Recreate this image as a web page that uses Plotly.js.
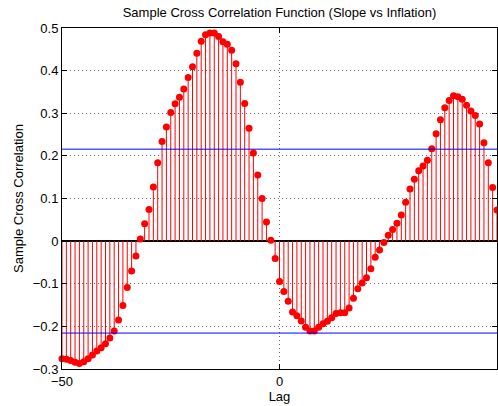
<!DOCTYPE html>
<html>
<head>
<meta charset="utf-8">
<script src="https://cdn.plot.ly/plotly-3.0.1.min.js"></script>
<style>html,body{margin:0;padding:0;background:#fff;}#chart{width:498px;height:406px;}</style>
</head>
<body>
<div id="chart"></div>
<script>
const lags = [];
for (let l = -50; l <= 50; l++) lags.push(l);
const xcf = [
 -0.276,-0.277,-0.280,-0.284,-0.287,-0.283,-0.276,-0.267,-0.258,-0.250,
 -0.241,-0.227,-0.211,-0.185,-0.151,-0.109,-0.070,-0.035,0.005,0.041,
 0.074,0.127,0.184,0.234,0.268,0.302,0.322,0.3375,0.357,0.384,
 0.409,0.441,0.469,0.484,0.488,0.488,0.480,0.468,0.462,0.448,
 0.416,0.373,0.323,0.265,0.207,0.155,0.100,0.045,0.002,-0.041,
 -0.095,-0.118,-0.141,-0.166,-0.175,-0.1875,-0.202,-0.211,-0.211,-0.202,
 -0.194,-0.188,-0.180,-0.170,-0.168,-0.168,-0.157,-0.134,-0.112,-0.098,
 -0.086,-0.065,-0.038,-0.021,-0.003,0.014,0.027,0.042,0.061,0.091,
 0.122,0.145,0.165,0.176,0.190,0.217,0.252,0.285,0.313,0.330,
 0.341,0.339,0.333,0.319,0.305,0.295,0.275,0.231,0.184,0.126,
 0.073
];
const bound = 0.2157;
const yTicks = [-0.3,-0.2,-0.1,0,0.1,0.2,0.3,0.4,0.5];
const xTicks = [-50,0,50];

const sx = [], sy = [];
lags.forEach((l,i)=>{ sx.push(l,l,null); sy.push(0,xcf[i],null); });

const fam = 'Liberation Sans, Arial, Helvetica, sans-serif';
const font = {family:fam, size:13, color:'#000'};
const traces = [
  {x:sx, y:sy, mode:'lines', line:{color:'#ff0000', width:1}, hoverinfo:'skip', showlegend:false},
  {x:lags, y:xcf, mode:'markers', marker:{color:'#ff0000', size:7}, cliponaxis:false, showlegend:false}
];
const layout = {
  width:498, height:406,
  margin:{l:62, r:1, t:28, b:37},
  paper_bgcolor:'#fff', plot_bgcolor:'#fff',
  font:font,
  title:{text:'Sample Cross Correlation Function (Slope vs Inflation)', font:{family:fam,size:13,color:'#000'}, xref:'paper', x:0.5, xanchor:'center', yref:'container', y:0.969, yanchor:'middle'},
  xaxis:{range:[-50,50], tickvals:xTicks, ticktext:['\u221250','0','50'], ticks:'inside', ticklen:5, tickcolor:'#000',
    showline:true, linecolor:'#000', linewidth:1, mirror:'ticks', showgrid:true, gridcolor:'#666', griddash:'1px,3px', gridwidth:1,
    zeroline:false, title:{text:'Lag', font:{size:13}, standoff:1}, tickfont:{size:13}},
  yaxis:{range:[-0.3,0.5], tickvals:yTicks, ticktext:yTicks.map(v=>v<0?'\u2212'+Math.abs(v):String(v)), ticks:'inside', ticklen:5, tickcolor:'#000',
    showline:true, linecolor:'#000', linewidth:1, mirror:'ticks', showgrid:true, gridcolor:'#666', griddash:'1px,3px', gridwidth:1,
    zeroline:true, zerolinecolor:'#000', zerolinewidth:1.5, title:{text:'Sample Cross Correlation', font:{size:13}, standoff:6}, tickfont:{size:13}},
  shapes:[
    {type:'line', xref:'paper', x0:0, x1:1, yref:'y', y0:bound, y1:bound, line:{color:'#0000ff', width:1}},
    {type:'line', xref:'paper', x0:0, x1:1, yref:'y', y0:-bound, y1:-bound, line:{color:'#0000ff', width:1}}
  ]
};
Plotly.newPlot('chart', traces, layout, {displayModeBar:false, staticPlot:true});
</script>
</body>
</html>
